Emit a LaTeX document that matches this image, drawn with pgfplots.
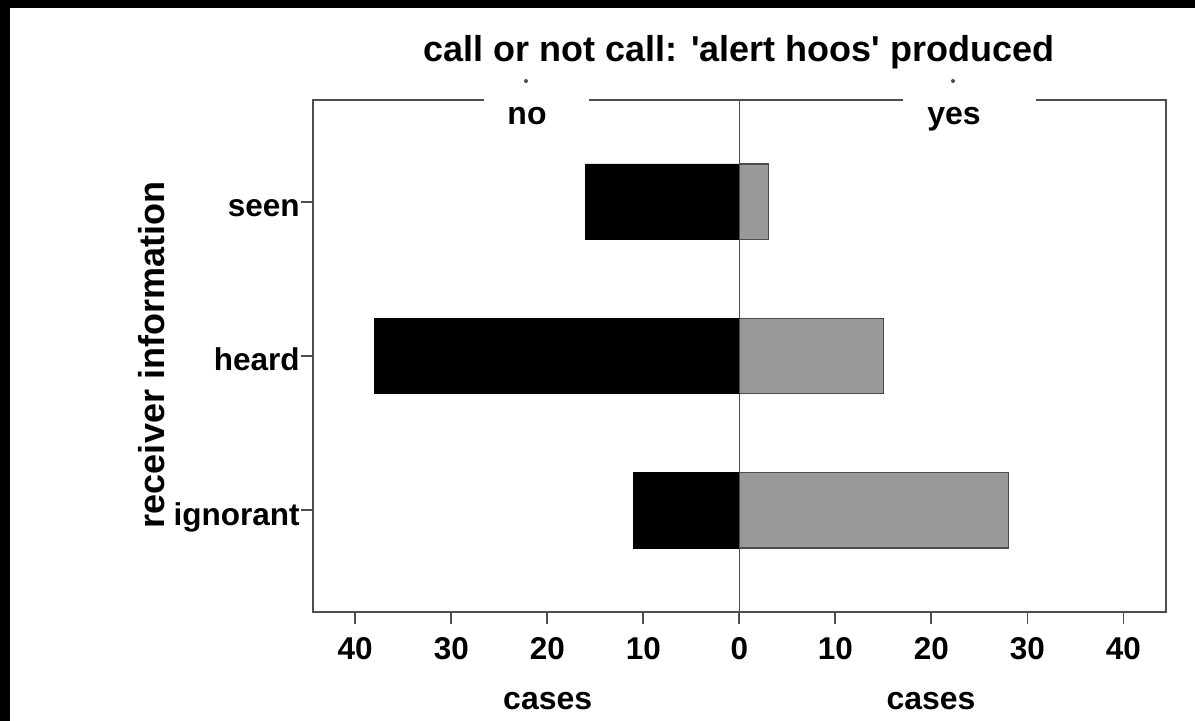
\documentclass[border=0pt]{standalone}
\usepackage{pgfplots}
\pgfplotsset{compat=1.18}
\usepackage{fontspec}
\setmainfont{Liberation Sans}
\definecolor{barGray}{HTML}{999999}
\definecolor{frameGray}{HTML}{4D4D4D}

% 1 px of the reference = 0.5pt
\begin{document}
\begin{tikzpicture}[x=0.5pt,y=-0.5pt]
\fill[black] (0,0) rectangle (1195,721);
\fill[white] (10,8) rectangle (1195,721);
\useasboundingbox (0,0) rectangle (1195,721);

\begin{axis}[
    at={(156.5pt,-306pt)}, anchor=south west,
    scale only axis,
    width=426.35pt, height=256pt,
    xmin=-44.4, xmax=44.4,
    ymin=-0.66, ymax=2.66,
    xtick={-40,-30,-20,-10,0,10,20,30,40},
    xticklabels={40,30,20,10,0,10,20,30,40},
    ytick={0,1,2},
    yticklabels={ignorant,heard,seen},
    tick pos=left,
    tick align=outside,
    major tick length=6pt,
    tick style={frameGray, line width=0.9pt},
    axis line style={frameGray, line width=1.1pt},
    ticklabel style={font=\bfseries\fontsize{15.75pt}{18pt}\selectfont},
    xticklabel style={yshift=-3pt},
    yticklabel style={anchor=base east, yshift=-7.5pt, inner xsep=0.5pt},
    clip=false,
]
% no
\addplot[xbar, bar shift=0pt, bar width=0.49, fill=black, draw=black]
    coordinates {(-16,2) (-38,1) (-11,0)};
% yes
\addplot[xbar, bar shift=0pt, bar width=0.49, fill=barGray, draw=frameGray, line width=0.6pt]
    coordinates {(3,2) (15,1) (28,0)};
\draw[frameGray, line width=0.8pt] (axis cs:0,-0.66) -- (axis cs:0,2.66);
\end{axis}

% gaps in the top line and panel labels
\fill[white] (484,96) rectangle (589,104);
\fill[white] (903,96) rectangle (1036,104);
\node[anchor=base, font=\bfseries\fontsize{16pt}{18pt}\selectfont, inner sep=0pt] at (527,125) {no};
\node[anchor=base, font=\bfseries\fontsize{16pt}{18pt}\selectfont, inner sep=0pt] at (954,125) {yes};
\fill[frameGray] (526,81) circle (2);
\fill[frameGray] (953,81) circle (2);

% title
\node[anchor=base, font=\bfseries\fontsize{18pt}{20pt}\selectfont, inner sep=0pt] at (739,62) {call or not call: \textquotesingle alert hoos\textquotesingle{} produced};
% axis titles
\node[anchor=base, font=\bfseries\fontsize{16pt}{18pt}\selectfont, inner sep=0pt] at (547.7,710) {cases};
\node[anchor=base, font=\bfseries\fontsize{16pt}{18pt}\selectfont, inner sep=0pt] at (931,710) {cases};
\node[rotate=90, font=\bfseries\fontsize{18pt}{20pt}\selectfont, inner sep=0pt] at (152,355) {receiver information};
\end{tikzpicture}
\end{document}
